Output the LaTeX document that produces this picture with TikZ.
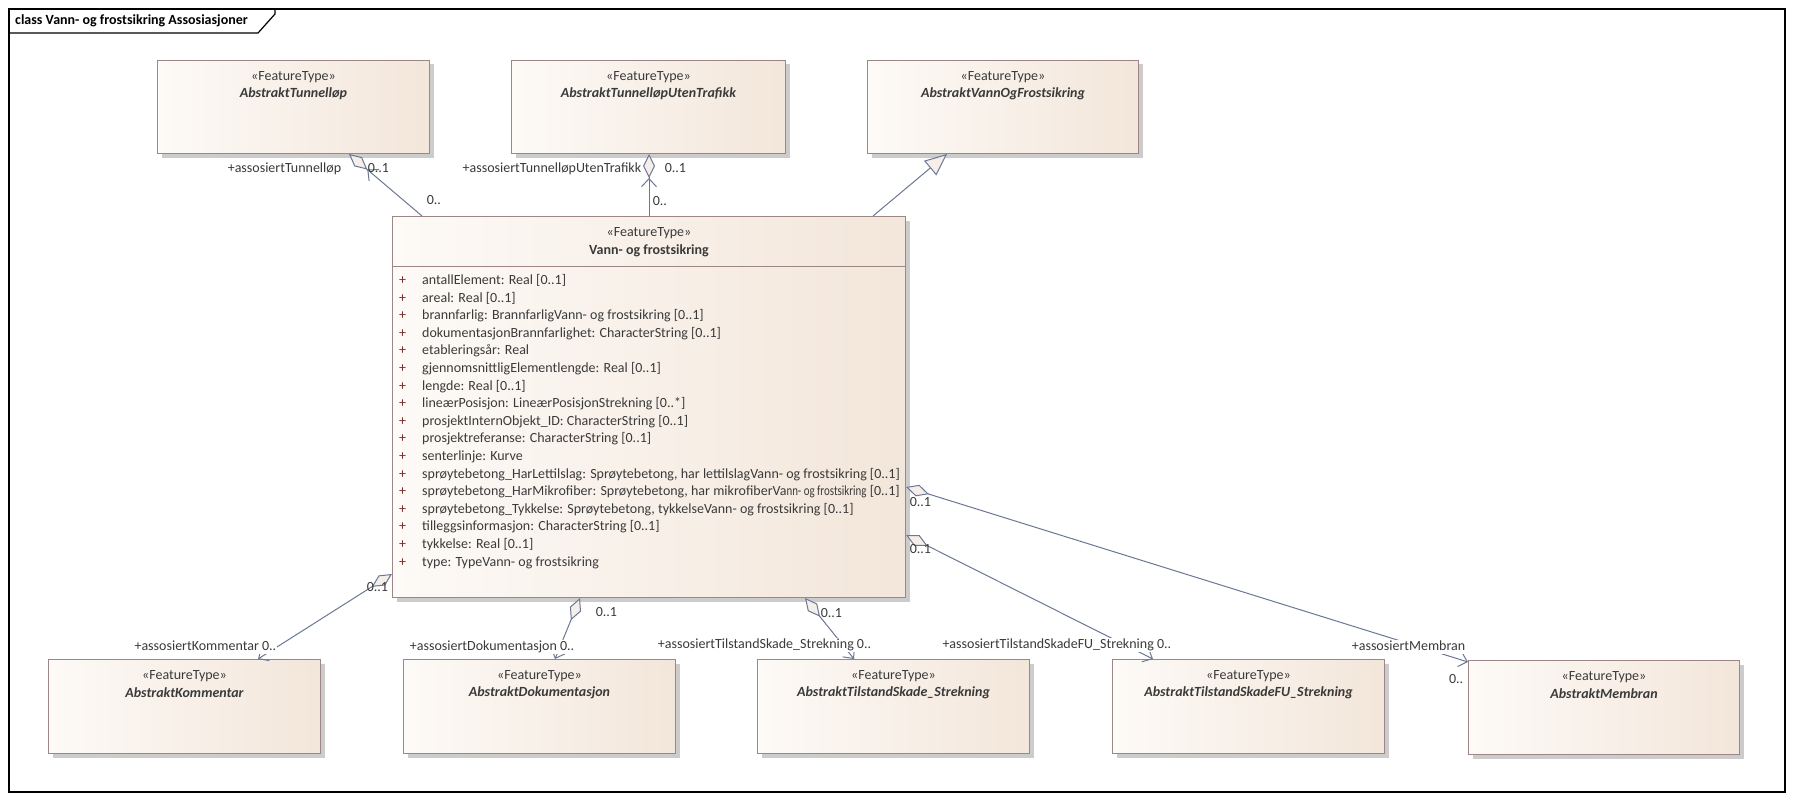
\documentclass[tikz,border=0pt]{standalone}
\usepackage{fontspec}
\usepackage{graphicx}
\setmainfont{Carlito}
\usetikzlibrary{arrows.meta,shadows,calc}
\definecolor{lnc}{HTML}{6B7895}
\definecolor{bdr}{HTML}{9C8686}
\definecolor{fl}{HTML}{FDFAF7}
\definecolor{fr}{HTML}{F3E6DA}
\definecolor{txt}{HTML}{3A3A3A}
\definecolor{plus}{HTML}{7A2A2A}
\definecolor{dfill}{HTML}{F6EEE8}
\begin{document}
\begin{tikzpicture}[x=1pt,y=-1pt,
  font=\fontsize{14}{16}\selectfont,
  fbox/.style={draw=bdr, line width=1pt, left color=fl, right color=fr, anchor=north west, inner sep=0pt,
    drop shadow={shadow xshift=4pt, shadow yshift=-4pt, fill=black!20, opacity=1}},
  stt/.style={text=txt, inner sep=0pt, font=\fontsize{14}{16}\selectfont},
  nmt/.style={text=txt, inner sep=0pt, font=\fontsize{14}{16}\selectfont\bfseries\itshape},
  attr/.style={text=txt, anchor=west, inner sep=0pt, text height=10pt, text depth=3pt},
  lab/.style={text=txt, inner sep=0.6pt, text height=9.5pt, text depth=3pt},
  hid/.style={lab, fill=white},
  conn/.style={draw=lnc, line width=1pt},
]
\useasboundingbox (0,0) rectangle (1794,800);
\fill[white] (0,0) rectangle (1794,800);
% frame
\draw[line width=1.2pt] (9,9) rectangle (1785,792);
\draw[line width=1.2pt] (9,33) -- (258,33) -- (275,14) -- (275,9);
\node[anchor=west, inner sep=0pt, font=\fontsize{14}{16}\selectfont\bfseries] (title) at (15,21) {class Vann- og frostsikring Assosiasjoner};

% boxes
\node[fbox, minimum width=272pt, minimum height=93pt] (tun) at (157,60) {};
\node[fbox, minimum width=274pt, minimum height=93pt] (ute) at (511,60) {};
\node[fbox, minimum width=271pt, minimum height=93pt] (vof) at (867,60) {};
\node[fbox, minimum width=513pt, minimum height=381pt] (main) at (392,216) {};
\node[fbox, minimum width=272pt, minimum height=94pt] (kom) at (48,659) {};
\node[fbox, minimum width=272pt, minimum height=94pt] (dok) at (403,659) {};
\node[fbox, minimum width=272pt, minimum height=94pt] (til) at (757,659) {};
\node[fbox, minimum width=272pt, minimum height=94pt] (fu) at (1112,659) {};
\node[fbox, minimum width=271pt, minimum height=94pt] (mem) at (1468,660) {};

% box texts
\foreach \b/\n in {tun/AbstraktTunnelløp, ute/AbstraktTunnelløpUtenTrafikk, vof/AbstraktVannOgFrostsikring,
  kom/AbstraktKommentar, dok/AbstraktDokumentasjon, til/AbstraktTilstandSkade\_Strekning,
  fu/AbstraktTilstandSkadeFU\_Strekning, mem/AbstraktMembran}{
  \node[stt] (\b-st) at ([yshift=-17pt]\b.north) {«FeatureType»};
  \node[nmt] (\b-nm) at ([yshift=-34pt]\b.north) {\n};
}
\node[stt] (main-st) at ([yshift=-17pt]main.north) {«FeatureType»};
\node[stt, font=\fontsize{14}{16}\selectfont\bfseries] (main-nm) at ([yshift=-35pt]main.north) {Vann- og frostsikring};
\draw[draw=bdr, line width=1pt] ([yshift=-50pt]main.north west) -- ([yshift=-50pt]main.north east);

% attributes
\foreach \t [count=\i from 0] in {
  {antallElement: Real [0..1]},
  {areal: Real [0..1]},
  {brannfarlig: BrannfarligVann- og frostsikring [0..1]},
  {dokumentasjonBrannfarlighet: CharacterString [0..1]},
  {etableringsår: Real},
  {gjennomsnittligElementlengde: Real [0..1]},
  {lengde: Real [0..1]},
  {lineærPosisjon: LineærPosisjonStrekning [0..*]},
  {prosjektInternObjekt\_ID: CharacterString [0..1]},
  {prosjektreferanse: CharacterString [0..1]},
  {senterlinje: Kurve},
  {sprøytebetong\_HarLettilslag: Sprøytebetong, har lettilslagVann- og frostsikring [0..1]},
  {sprøytebetong\_HarMikrofiber: Sprøytebetong, har mikrofiberVa\scalebox{0.78}[1]{nn- og frostsikring} [0..1]},
  {sprøytebetong\_Tykkelse: Sprøytebetong, tykkelseVann- og frostsikring [0..1]},
  {tilleggsinformasjon: CharacterString [0..1]},
  {tykkelse: Real [0..1]},
  {type: TypeVann- og frostsikring}}{
  \node[attr, text=plus] (p\i) at (399,281+17.6*\i) {+};
  \node[attr] (a\i) at (422,281+17.6*\i) {\t};
}

% connectors
\draw[conn, -{Straight Barb[length=8pt, width=15pt, line width=1pt] Diamond[fill=dfill, length=24pt, width=12pt, line width=1pt]}]
  ([xshift=30pt]main.north west) -- ([xshift=192pt]tun.south west);
\draw[conn, -{Straight Barb[length=8pt, width=15pt, line width=1pt] Diamond[fill=dfill, length=24pt, width=12pt, line width=1pt]}]
  ([xshift=257pt]main.north west) -- ([xshift=138pt]ute.south west);
\draw[conn, -{Triangle[fill=dfill, length=22pt, width=19pt, line width=1pt]}]
  ([xshift=481pt]main.north west) -- ([xshift=80pt]vof.south west);
\draw[conn, {Diamond[fill=dfill, length=24pt, width=12pt, line width=1pt]}-{Straight Barb[length=8pt, width=15pt, line width=1pt]}]
  ([yshift=24pt]main.south west) -- ([xshift=210pt]kom.north west);
\draw[conn, {Diamond[fill=dfill, length=24pt, width=12pt, line width=1pt]}-{Straight Barb[length=8pt, width=15pt, line width=1pt]}]
  ([xshift=188pt]main.south west) -- ([xshift=152pt]dok.north west);
\draw[conn, {Diamond[fill=dfill, length=24pt, width=12pt, line width=1pt]}-{Straight Barb[length=8pt, width=15pt, line width=1pt]}]
  ([xshift=413pt]main.south west) -- ([xshift=97pt]til.north west);
\draw[conn, {Diamond[fill=dfill, length=24pt, width=12pt, line width=1pt]}-{Straight Barb[length=8pt, width=15pt, line width=1pt]}]
  ([yshift=-319pt]main.north east) -- ([xshift=41pt]fu.north west);
\draw[conn, {Diamond[fill=dfill, length=24pt, width=12pt, line width=1pt]}-{Straight Barb[length=8pt, width=15pt, line width=1pt]}]
  ([yshift=-271pt]main.north east) -- ([yshift=-2pt]mem.north west);

% labels
\node[hid, anchor=east] (l1) at (342,169) {+assosiertTunnelløp};
\node[lab, anchor=west] (l2) at (367,169) {0..1};
\node[lab, anchor=west] (l3) at (426,201) {0..};
\node[hid, anchor=east] (l4) at (642,169) {+assosiertTunnelløpUtenTrafikk};
\node[lab, anchor=west] (l5) at (664,169) {0..1};
\node[lab, anchor=west] (l6) at (652,202) {0..};
\node[lab, anchor=west] (l7) at (366,588) {0..1};
\node[hid, anchor=east] (l8) at (277,647) {+assosiertKommentar 0..};
\node[lab, anchor=west] (l9) at (595,613) {0..1};
\node[hid, anchor=east] (l10) at (575,647) {+assosiertDokumentasjon 0..};
\node[lab, anchor=west] (l11) at (820,614) {0..1};
\node[hid, anchor=east] (l12) at (872,645) {+assosiertTilstandSkade\_Strekning 0..};
\node[lab, anchor=west] (l13) at (909,550) {0..1};
\node[hid, anchor=east] (l14) at (1172,645) {+assosiertTilstandSkadeFU\_Strekning 0..};
\node[lab, anchor=west] (l15) at (909,503) {0..1};
\node[hid, anchor=east] (l16) at (1466,647) {+assosiertMembran};
\node[lab, anchor=east] (l17) at (1464,680) {0..};
\end{tikzpicture}
\end{document}
